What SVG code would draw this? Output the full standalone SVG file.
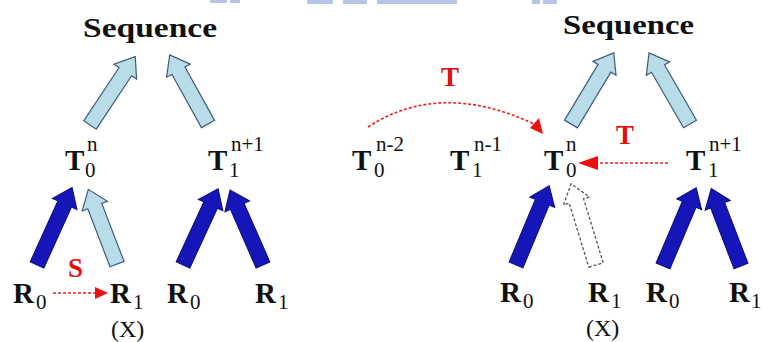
<svg xmlns="http://www.w3.org/2000/svg" width="762" height="342" viewBox="0 0 762 342">
<style>
.big{font-weight:bold;font-size:29px;fill:#111}
.seq{font-weight:bold;font-size:28px;fill:#111}
.sub{font-size:21px;fill:#111}
.sup{font-size:21px;fill:#111}
.x{font-size:24px;fill:#111}
.red{font-weight:bold;font-size:27px;fill:#e01010}
.lb{fill:#b9dde8;stroke:#3e5c78;stroke-width:1.2}
.db{fill:#1616b8;stroke:#0a0a80;stroke-width:1}
.ds{fill:#fff;stroke:#555;stroke-width:1.3;stroke-dasharray:3 2}
.rl{fill:none;stroke:#e82020;stroke-width:1.6;stroke-dasharray:3 2}
.rh{fill:#e81010}
.wm{fill:#b8c4e6}
</style>
<g id="band">
<rect class="wm" x="210" y="0" width="17" height="3"/>
<rect class="wm" x="230" y="0" width="10" height="3"/>
<rect class="wm" x="307" y="0" width="26" height="4"/>
<rect class="wm" x="343" y="0" width="24" height="4"/>
<rect class="wm" x="377" y="0" width="80" height="4"/>
<rect class="wm" x="532" y="0" width="8" height="4"/>
<rect class="wm" x="543" y="0" width="14" height="4"/>
</g>
<g font-family="Liberation Serif, serif">
<g id="connectors">
<g transform="translate(90,125) rotate(33.5)"><polygon class="lb" points="-7.5,0 7.5,0 7.5,-64 13.5,-64 0,-82 -13.5,-64 -7.5,-64"/></g>
<g transform="translate(208,124) rotate(-29)"><polygon class="lb" points="-7.5,0 7.5,0 7.5,-61 13.5,-61 0,-79 -13.5,-61 -7.5,-61"/></g>
<g transform="translate(571,124) rotate(31)"><polygon class="lb" points="-7.5,0 7.5,0 7.5,-65 13.5,-65 0,-83 -13.5,-65 -7.5,-65"/></g>
<g transform="translate(690,124) rotate(-30)"><polygon class="lb" points="-7.5,0 7.5,0 7.5,-64 13.5,-64 0,-82 -13.5,-64 -7.5,-64"/></g>
<g transform="translate(37,265) rotate(24.4)"><polygon class="db" points="-7.5,0 7.5,0 7.5,-67 13.5,-67 0,-85 -13.5,-67 -7.5,-67"/></g>
<g transform="translate(117,264) rotate(-21)"><polygon class="lb" points="-7.5,0 7.5,0 7.5,-62 13.5,-62 0,-80 -13.5,-62 -7.5,-62"/></g>
<g transform="translate(183,265) rotate(24.7)"><polygon class="db" points="-7.5,0 7.5,0 7.5,-66 13.5,-66 0,-84 -13.5,-66 -7.5,-66"/></g>
<g transform="translate(263,265) rotate(-23.7)"><polygon class="db" points="-7.5,0 7.5,0 7.5,-64 13.5,-64 0,-82 -13.5,-64 -7.5,-64"/></g>
<g transform="translate(516,265) rotate(22.7)"><polygon class="db" points="-7.5,0 7.5,0 7.5,-68 13.5,-68 0,-86 -13.5,-68 -7.5,-68"/></g>
<g transform="translate(596,265) rotate(-17)"><polygon class="ds" points="-7.5,0 7.5,0 7.5,-67 13.5,-67 0,-85 -13.5,-67 -7.5,-67"/></g>
<g transform="translate(663,266) rotate(23)"><polygon class="db" points="-7.5,0 7.5,0 7.5,-67 13.5,-67 0,-85 -13.5,-67 -7.5,-67"/></g>
<g transform="translate(741,266) rotate(-21)"><polygon class="db" points="-7.5,0 7.5,0 7.5,-65 13.5,-65 0,-83 -13.5,-65 -7.5,-65"/></g>
<line class="rl" x1="53" y1="293" x2="96" y2="293"/>
<polygon class="rh" points="108,293 95,287 95,299"/>
<path class="rl" d="M368,127 Q440,80 534,124"/>
<polygon class="rh" points="543,134 530,128 539,118"/>
<line class="rl" x1="668" y1="163" x2="598" y2="163"/>
<polygon class="rh" points="578,163 598,156 598,170"/>
<text class="red" x="68" y="277">S</text>
<text class="red" x="441" y="86">T</text>
<text class="red" x="616" y="144">T</text>
</g>
<g id="seq-left"><text class="seq" x="83" y="37" textLength="134" lengthAdjust="spacingAndGlyphs">Sequence</text></g>
<g id="seq-right"><text class="seq" x="563" y="34" textLength="131" lengthAdjust="spacingAndGlyphs">Sequence</text></g>
<g id="T0n-left"><text class="big" x="65" y="170">T</text><text class="sub" x="85" y="177">0</text><text class="sup" x="87" y="151">n</text></g>
<g id="T1n1-left"><text class="big" x="208" y="170">T</text><text class="sub" x="229" y="177">1</text><text class="sup" x="231" y="151">n+1</text></g>
<g id="T0n2"><text class="big" x="352" y="170">T</text><text class="sub" x="374" y="177">0</text><text class="sup" x="376" y="151">n-2</text></g>
<g id="T1n1m"><text class="big" x="450" y="170">T</text><text class="sub" x="472" y="177">1</text><text class="sup" x="474" y="151">n-1</text></g>
<g id="T0n-right"><text class="big" x="544" y="170">T</text><text class="sub" x="566" y="177">0</text><text class="sup" x="566" y="151">n</text></g>
<g id="T1n1-right"><text class="big" x="686" y="170">T</text><text class="sub" x="708" y="177">1</text><text class="sup" x="709" y="151">n+1</text></g>
<g id="R0-a"><text class="big" x="13" y="303">R</text><text class="sub" x="36" y="309">0</text></g>
<g id="R1-a"><text class="big" x="110" y="303">R</text><text class="sub" x="133" y="309">1</text></g>
<g id="X-a"><text class="x" x="111" y="337">(X)</text></g>
<g id="R0-b"><text class="big" x="167" y="303">R</text><text class="sub" x="190" y="309">0</text></g>
<g id="R1-b"><text class="big" x="255" y="303">R</text><text class="sub" x="278" y="309">1</text></g>
<g id="R0-c"><text class="big" x="500" y="302">R</text><text class="sub" x="523" y="308">0</text></g>
<g id="R1-c"><text class="big" x="588" y="302">R</text><text class="sub" x="611" y="308">1</text></g>
<g id="X-c"><text class="x" x="586" y="336">(X)</text></g>
<g id="R0-d"><text class="big" x="646" y="302">R</text><text class="sub" x="669" y="308">0</text></g>
<g id="R1-d"><text class="big" x="729" y="302">R</text><text class="sub" x="751" y="308">1</text></g>
</g>
</svg>
